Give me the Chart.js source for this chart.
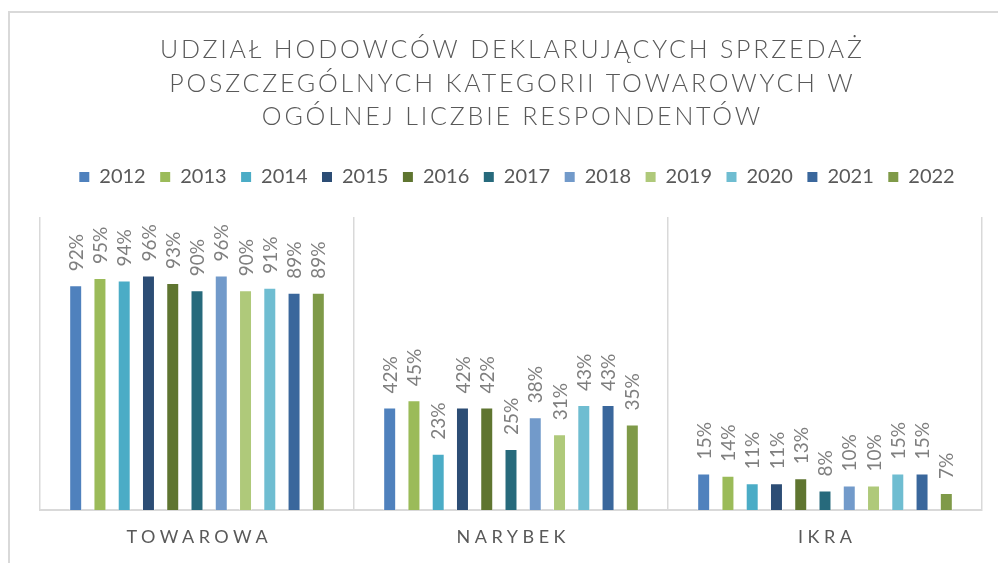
<!DOCTYPE html>
<html lang="pl">
<head>
<meta charset="utf-8">
<script src="https://cdn.jsdelivr.net/npm/chart.js@4.4.1/dist/chart.umd.min.js"></script>
<style>
  html, body { margin: 0; padding: 0; background: #fff; overflow: hidden; }
  #frame { position: absolute; left: 8px; top: 11px; width: 1100px; height: 700px; border: 2px solid #d9d9d9; box-sizing: border-box; }
  #chart { position: absolute; left: 0; top: 0; }
</style>
</head>
<body>
<div id="frame"></div>
<canvas id="chart" width="998" height="563"></canvas>
<script>
const titleLines = [
  'UDZIAŁ HODOWCÓW DEKLARUJĄCYCH SPRZEDAŻ',
  'POSZCZEGÓLNYCH KATEGORII TOWAROWYCH W',
  'OGÓLNEJ LICZBIE RESPONDENTÓW',
];
const categories = ['TOWAROWA', 'NARYBEK', 'IKRA'];
const years = ['2012', '2013', '2014', '2015', '2016', '2017', '2018', '2019', '2020', '2021', '2022'];
const colors = ['#4f81bd', '#9bbb59', '#4bacc6', '#2c4d75', '#5f7530', '#276a7c',
                '#729aca', '#afc97a', '#6fbdd1', '#3a679c', '#7f9a48'];

// shares in % for TOWAROWA, NARYBEK, IKRA
const v2012 = [92, 42, 15];
const v2013 = [95, 45, 14];
const v2014 = [94, 23, 11];
const v2015 = [96, 42, 11];
const v2016 = [93, 42, 13];
const v2017 = [90, 25, 8];
const v2018 = [96, 38, 10];
const v2019 = [90, 31, 10];
const v2020 = [91, 43, 15];
const v2021 = [89, 43, 15];
const v2022 = [89, 35, 7];
const seriesValues = [v2012, v2013, v2014, v2015, v2016, v2017, v2018, v2019, v2020, v2021, v2022];

const yMax = 120;

// Draw spaced text centred on x (letterSpacing adds a trailing gap)
function spacedText(ctx, text, x, y, spacing) {
  ctx.letterSpacing = spacing + 'px';
  const w = ctx.measureText(text).width - spacing;
  ctx.textAlign = 'left';
  ctx.fillText(text, x - w / 2, y);
  ctx.letterSpacing = '0px';
}

const overlayPlugin = {
  id: 'overlay',
  afterDatasetsDraw(chart) {
    const ctx = chart.ctx;
    // Rotated value labels above each bar
    ctx.save();
    ctx.font = '19px Lato';
    ctx.fillStyle = '#7f7f7f';
    ctx.textAlign = 'left';
    ctx.textBaseline = 'middle';
    chart.data.datasets.forEach((ds, i) => {
      chart.getDatasetMeta(i).data.forEach((bar, j) => {
        ctx.save();
        ctx.translate(bar.x + 1, bar.y - 14);
        ctx.rotate(-Math.PI / 2);
        ctx.fillText(ds.data[j] + '%', 0, 0);
        ctx.restore();
      });
    });
    ctx.restore();
  },
  afterDraw(chart) {
    const ctx = chart.ctx;
    const area = chart.chartArea;
    const cx = (area.left + area.right) / 2;
    ctx.save();

    // Title
    ctx.font = '300 25px Lato';
    ctx.fillStyle = '#595959';
    ctx.textBaseline = 'middle';
    titleLines.forEach((line, i) => {
      spacedText(ctx, line, cx, 50 + i * 33.5, 2.8);
    });

    // Legend
    ctx.font = '20px Lato';
    const box = 10, gap = 10, itemPad = 14.5;
    const widths = chart.data.datasets.map((ds) => box + gap + ctx.measureText(ds.label).width);
    const total = widths.reduce((a, b) => a + b, 0) + itemPad * (widths.length - 1);
    let x = 517 - total / 2;
    const ly = 177;
    chart.data.datasets.forEach((ds, i) => {
      ctx.fillStyle = ds.backgroundColor;
      ctx.fillRect(x, ly - box / 2, box, box);
      ctx.fillStyle = '#595959';
      ctx.textAlign = 'left';
      ctx.fillText(ds.label, x + box + gap, ly);
      x += widths[i] + itemPad;
    });

    // Category labels
    ctx.font = '18px Lato';
    ctx.fillStyle = '#595959';
    const xScale = chart.scales.x;
    categories.forEach((c, i) => {
      spacedText(ctx, c, xScale.getPixelForValue(i), 537, 4.5);
    });
    ctx.restore();
  },
};

new Chart(document.getElementById('chart'), {
  type: 'bar',
  data: {
    labels: categories,
    datasets: years.map((y, i) => ({
      label: y,
      data: seriesValues[i],
      backgroundColor: colors[i],
      borderColor: 'rgba(255,255,255,0.45)',
      borderWidth: 1,
      categoryPercentage: 0.85,
      barPercentage: 0.535,
    })),
  },
  options: {
    responsive: false,
    animation: false,
    layout: { padding: { top: 217, left: 40, right: 16, bottom: 53 } },
    plugins: {
      legend: { display: false },
      title: { display: false },
      tooltip: { enabled: false },
    },
    scales: {
      x: {
        grid: { offset: true, color: '#d9d9d9', lineWidth: 1.5, drawTicks: false },
        border: { color: '#d9d9d9', width: 2 },
        ticks: { display: false },
      },
      y: { display: false, min: 0, max: yMax },
    },
  },
  plugins: [overlayPlugin],
});
</script>
</body>
</html>
